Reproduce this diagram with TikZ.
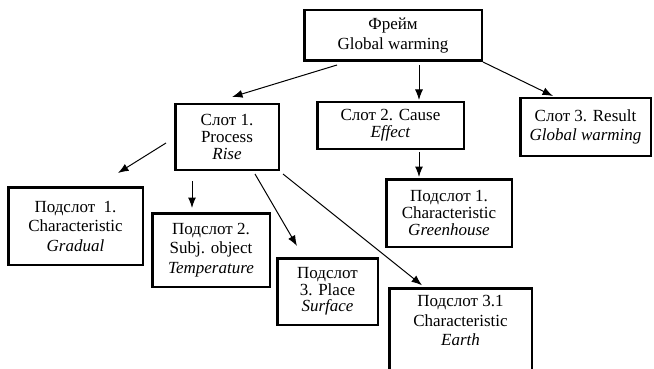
\documentclass[tikz,border=0pt]{standalone}
\usepackage{fontspec}
\setmainfont{Liberation Serif}
\usetikzlibrary{arrows.meta}

\begin{document}
\begin{tikzpicture}[x=1pt,y=-1pt,>={Latex[length=10.5pt,width=8pt]},
  box/.style={draw, line width=2.5pt, align=center, inner sep=2pt,
    font=\fontsize{17}{19.5}\selectfont},
  tight/.style={font=\fontsize{17}{16.7}\selectfont},
  arr/.style={->, line width=1pt}]
\useasboundingbox (0,0) rectangle (654,369);
\clip (0,0) rectangle (654,369);

\node[box, minimum width=177.5, minimum height=50.5](1) at (393,35.5){Фрейм\\Global warming};
\node[box, tight, minimum width=103.5, minimum height=65.5](2) at (227,137){Слот 1.\\Process\\\textit{Rise}};
\node[box, tight, minimum width=146.5, minimum height=46.5](3) at (390.5,125.5){Слот 2. Cause\\\textit{Effect}};
\node[box, minimum width=130.5, minimum height=57.5](4) at (585.5,127){Слот 3. Result\\\textit{Global warming}};
\node[box, minimum width=134.5, minimum height=77.5](5) at (75.5,226){Подслот~~1.\\Characteristic\\\textit{Gradual}};
\node[box, minimum width=117.5, minimum height=73.5](6) at (211,250){Подслот 2.\\Subj. object\\\textit{Temperature}};
\node[box, tight, minimum width=100.5, minimum height=66.5](7) at (327.5,291.5){Подслот\\3. Place\\\textit{Surface}};
\node[box, tight, minimum width=125.5, minimum height=67.5](8) at (449,213){Подслот 1.\\Characteristic\\\textit{Greenhouse}};
\node[box, anchor=north, inner ysep=7pt, minimum width=142.5](9) at (460.5,287.25){Подслот 3.1\\Characteristic\\\textit{Earth}\\[40pt]};

\draw [arr]([xshift=-56pt,yshift=-3pt]1.south)--([xshift=5pt,yshift=6pt]2.north);
\draw [arr]([xshift=26pt,yshift=-3pt]1.south)--([xshift=28.5pt,yshift=1pt]3.north);
\draw [arr](1.south east)--([xshift=-32.5pt,yshift=1pt]4.north);
\draw [arr]([xshift=28.5pt,yshift=-2pt]3.south)--([xshift=-30pt,yshift=1pt]8.north);
\draw [arr]([xshift=-8pt,yshift=-6pt]2.west)--([xshift=42.5pt,yshift=13pt]5.north);
\draw [arr]([xshift=-35pt,yshift=-10pt]2.south)--([xshift=-19pt,yshift=4pt]6.north);
\draw [arr]([xshift=28pt,yshift=-3pt]2.south)--([xshift=-30.5pt,yshift=11pt]7.north);
\draw [arr]([xshift=56pt,yshift=-3pt]2.south)--([xshift=-38.5pt,yshift=2pt]9.north);
\end{tikzpicture}
\end{document}
